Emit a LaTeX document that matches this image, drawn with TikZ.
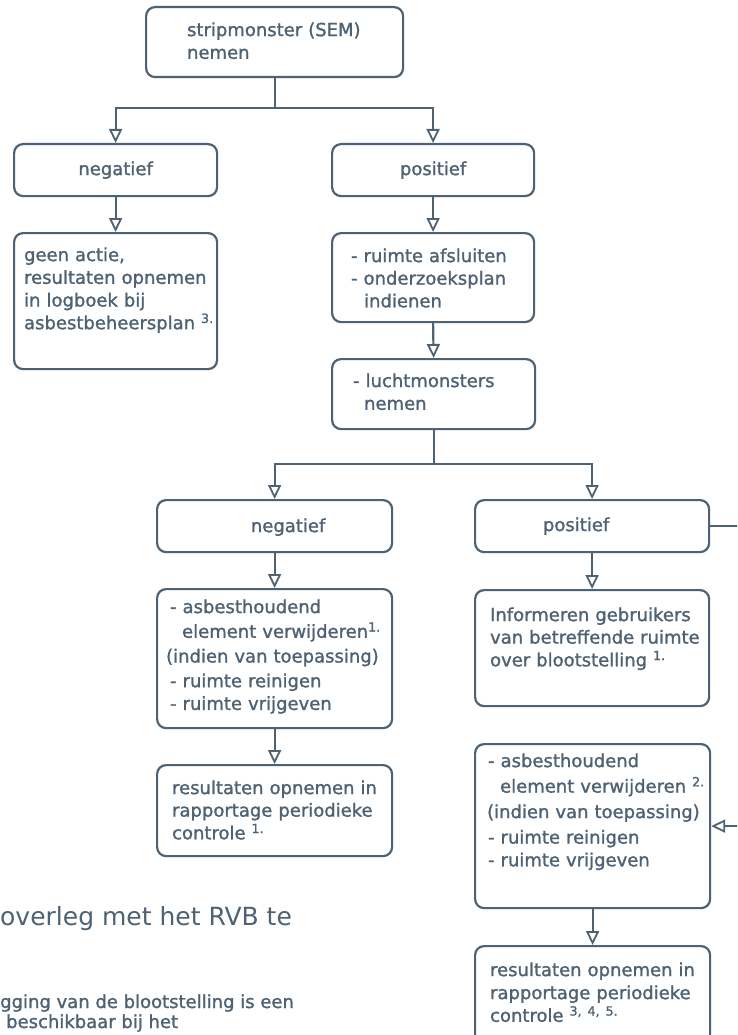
\documentclass[tikz,border=0pt]{standalone}
\usepackage{fontspec}
\setmainfont{DejaVu Sans}[BoldFont=DejaVu Sans, BoldFeatures={FakeBold=1.3}]
\usetikzlibrary{arrows.meta}
\definecolor{ink}{HTML}{4E6274}
\tikzset{
  box/.style={draw=ink, text=ink, line width=2.2pt, rounded corners=9pt, inner sep=0pt,
    anchor=north west, align=left, font=\fontsize{18}{22.7}\selectfont\bfseries},
  cbox/.style={box, align=center},
  arr/.style={draw=ink, line width=2.2pt,
    -{Triangle[open, length=14pt, width=13pt, line width=1.8pt]}},
  free/.style={text=ink, inner sep=0pt, anchor=base west}
}
\begin{document}
\begin{tikzpicture}[x=1pt, y=-1pt]
\clip (0,0) rectangle (737,1035);
\useasboundingbox (0,0) rectangle (737,1035);
\fill[white] (0,0) rectangle (737,1035);

\node[box, text width=257pt, text height=29pt, text depth=41pt] (strip) at (145,6)
  {\fontsize{18}{23}\selectfont\hspace*{41pt}stripmonster (SEM)\\\hspace*{41pt}nemen};
\node[cbox, text width=203pt, text height=31pt, text depth=21pt] (neg1) at (13,143) {negatief};
\node[cbox, text width=202pt, text height=31pt, text depth=21pt] (pos1) at (331,143) {positief};
\node[box, text width=203pt, text height=28pt, text depth=108pt] (geen) at (13,232)
  {\hspace*{10pt}geen actie,\\\hspace*{10pt}resultaten opnemen\\\hspace*{10pt}in logboek bij\\\hspace*{10pt}asbestbeheersplan \textsuperscript{3.}};
\node[box, text width=202pt, text height=29pt, text depth=60pt] (ruimte) at (331,232)
  {\fontsize{18}{22.5}\selectfont\hspace*{19pt}- ruimte afsluiten\\\hspace*{19pt}- onderzoeksplan\\\hspace*{32pt}indienen};
\node[box, text width=203pt, text height=28pt, text depth=42pt] (lucht) at (331,358)
  {\fontsize{18}{23}\selectfont\hspace*{21pt}- luchtmonsters\\\hspace*{32pt}nemen};
\node[cbox, text width=235pt, text height=32pt, text depth=20pt] (neg2) at (156,499) {\hspace*{27pt}negatief};
\node[cbox, text width=234pt, text height=31pt, text depth=21pt] (pos2) at (474,499) {\hspace*{-32pt}positief};
\node[box, text width=235pt, text height=24pt, text depth=115pt] (asb1) at (156,588)
  {\fontsize{18}{24.7}\selectfont\hspace*{13pt}- asbesthoudend\\\hspace*{25pt}element verwijderen\textsuperscript{1.}\\\hspace*{9pt}(indien van toepassing)\\\hspace*{13pt}- ruimte reinigen\\\hspace*{13pt}- ruimte vrijgeven};
\node[box, text width=234pt, text height=31pt, text depth=85pt] (info) at (474,589)
  {\fontsize{18}{22.5}\selectfont\hspace*{15pt}Informeren gebruikers\\\hspace*{15pt}van betreffende ruimte\\\hspace*{15pt}over blootstelling \textsuperscript{1.}};
\node[box, text width=235pt, text height=29pt, text depth=62pt] (res1) at (156,764)
  {\fontsize{18}{22.5}\selectfont\hspace*{15pt}resultaten opnemen in\\\hspace*{15pt}rapportage periodieke\\\hspace*{15pt}controle \textsuperscript{1.}};
\node[box, text width=235pt, text height=23pt, text depth=141pt] (asb2) at (474,743)
  {\fontsize{18}{25.5}\selectfont\hspace*{13pt}- asbesthoudend\\\hspace*{25pt}element verwijderen \textsuperscript{2.}\\\hspace*{12pt}(indien van toepassing)\\\hspace*{13pt}- ruimte reinigen\\\hspace*{13pt}- ruimte vrijgeven};
\node[box, text width=235pt, text height=30pt, text depth=95pt] (res2) at (474,945)
  {\fontsize{18}{23}\selectfont\hspace*{15pt}resultaten opnemen in\\\hspace*{15pt}rapportage periodieke\\\hspace*{15pt}controle \textsuperscript{3, 4, 5.}};

\node[free, font=\fontsize{25}{30}\selectfont] (head) at (0,925) {overleg met het RVB te};
\node[free, font=\fontsize{18}{22}\selectfont\bfseries] (foot1) at (0,1008) {gging van de blootstelling is een};
\node[free, font=\fontsize{18}{22}\selectfont\bfseries] (foot2) at (6,1028) {beschikbaar bij het};

\draw[arr] (strip.south) -- ++(0,30) -| (neg1.north);
\draw[arr] (strip.south) -- ++(0,30) -| (pos1.north);
\draw[arr] (neg1.south) -- (geen.north);
\draw[arr] (pos1.south) -- (ruimte.north);
\draw[arr] (ruimte.south) -- (lucht.north);
\draw[arr] (lucht.south) -- ++(0,34) -| (neg2.north);
\draw[arr] (lucht.south) -- ++(0,34) -| (pos2.north);
\draw[arr] (neg2.south) -- (asb1.north);
\draw[arr] (asb1.south) -- (res1.north);
\draw[arr] (pos2.south) -- (info.north);
\draw[arr] (asb2.south) -- (res2.north);
\draw[arr] (pos2.east) -- ++(60,0) |- (asb2.east);
\end{tikzpicture}
\end{document}
